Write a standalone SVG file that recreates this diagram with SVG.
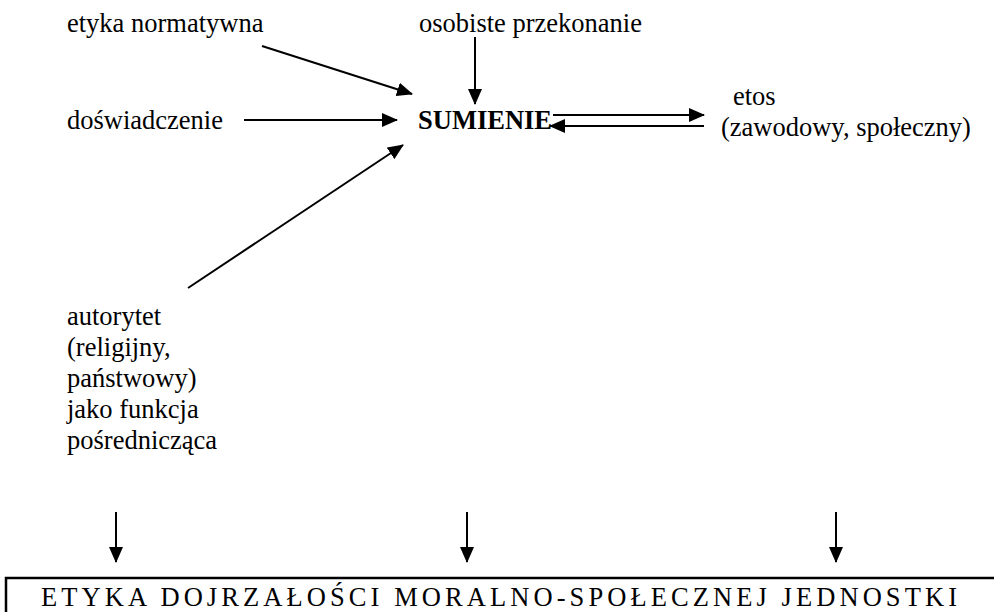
<svg xmlns="http://www.w3.org/2000/svg" width="994" height="612" viewBox="0 0 994 612">
<defs>
<style>
.t{font-family:"Liberation Serif","Times New Roman",serif;font-size:26.5px;fill:#000}
.b{font-weight:bold}
.c{stroke:#000;stroke-width:2;fill:none;marker-end:url(#ah)}
.box{stroke:#000;stroke-width:2.5;fill:#fff}
</style>
<marker id="ah" viewBox="0 0 16 14" refX="15" refY="7" markerWidth="16" markerHeight="14" orient="auto" markerUnits="userSpaceOnUse">
<path d="M0,0 L16,7 L0,14 Z" fill="#000"/>
</marker>
</defs>
<rect width="994" height="612" fill="#fff"/>
<g id="etyka-normatywna"><text class="t" x="67" y="32">etyka normatywna</text></g>
<g id="osobiste-przekonanie"><text class="t" x="419" y="32">osobiste przekonanie</text></g>
<g id="doswiadczenie"><text class="t" x="67" y="129">doświadczenie</text></g>
<g id="sumienie"><text class="t b" x="418" y="129">SUMIENIE</text></g>
<g id="etos"><text class="t" x="733" y="105">etos</text><text class="t" x="721" y="135.5">(zawodowy, społeczny)</text></g>
<g id="autorytet">
<text class="t" x="67" y="325">autorytet</text>
<text class="t" x="67" y="356">(religijny,</text>
<text class="t" x="67" y="387">państwowy)</text>
<text class="t" x="67" y="418">jako funkcja</text>
<text class="t" x="67" y="449">pośrednicząca</text>
</g>
<g id="etyka-dojrzalosci">
<rect class="box" x="6" y="578" width="1000" height="60"/>
<text class="t" x="41" y="606" textLength="916" lengthAdjust="spacing">ETYKA DOJRZAŁOŚCI MORALNO-SPOŁECZNEJ JEDNOSTKI</text>
</g>
<g id="connectors">
<line class="c" x1="262" y1="46" x2="412" y2="94"/>
<line class="c" x1="475" y1="37" x2="475" y2="104"/>
<line class="c" x1="244" y1="120" x2="397" y2="120"/>
<line class="c" x1="188" y1="288" x2="403" y2="145"/>
<line class="c" x1="553" y1="115" x2="704" y2="115"/>
<line class="c" x1="704" y1="126" x2="550" y2="126"/>
<line class="c" x1="116" y1="512" x2="116" y2="562"/>
<line class="c" x1="467" y1="512" x2="467" y2="562"/>
<line class="c" x1="836" y1="512" x2="836" y2="562"/>
</g>
</svg>
